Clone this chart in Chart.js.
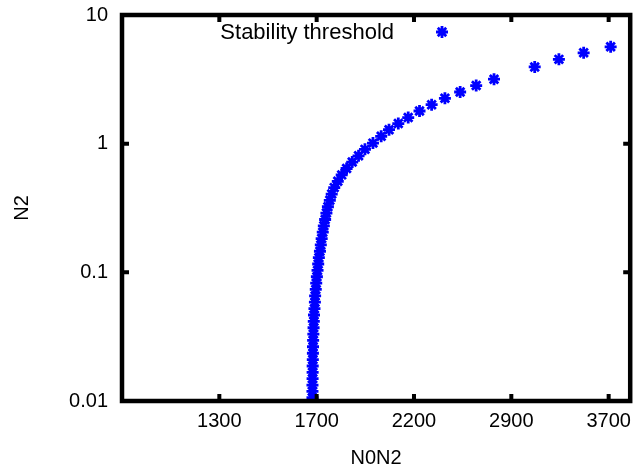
<!DOCTYPE html>
<html lang="en">
<head>
    <meta charset="UTF-8">
    <title>Stability threshold</title>
    <script src="https://cdn.jsdelivr.net/npm/chart.js"></script>
    <style>
        html, body { margin: 0; padding: 0; background: #fff; }
        canvas { display: block; }
    </style>
</head>
<body>
    <canvas id="myChart" width="639" height="473"></canvas>
    <script>
        // N0N2 (x) and N2 (y) of the stability threshold, bottom to top
        var n0n2 = [1671, 1671, 1671, 1671.5, 1671.7, 1672, 1672.5, 1673, 1673.5, 1674,
            1675, 1676, 1677, 1678, 1680, 1682, 1683, 1686, 1688, 1691,
            1694, 1697, 1700, 1705, 1709, 1713, 1718, 1723, 1729, 1735,
            1742, 1751, 1760, 1772, 1789, 1808, 1832, 1860, 1892, 1925,
            1967, 2011, 2054, 2106, 2163, 2230, 2304, 2388, 2488, 2598,
            2726, 3042, 3247, 3471, 3733];
        var n2 = [0.0106, 0.0119, 0.0133, 0.0149, 0.0167, 0.0187, 0.0210, 0.0235, 0.0264, 0.0296,
            0.0331, 0.0371, 0.0416, 0.0466, 0.0522, 0.0586, 0.0656, 0.0736, 0.0824, 0.0924,
            0.1035, 0.1161, 0.1300, 0.1458, 0.1632, 0.1831, 0.2050, 0.2299, 0.2574, 0.2887,
            0.3233, 0.3627, 0.406, 0.4555, 0.510, 0.572, 0.641, 0.719, 0.805, 0.903,
            1.01, 1.14, 1.285, 1.432, 1.595, 1.795, 2.01, 2.25, 2.52, 2.83,
            3.17, 3.95, 4.52, 5.08, 5.66];

        var xTickValues = [1300, 1690, 2197, 2856.1, 3712.93];
        var xTickLabels = ['1300', '1700', '2200', '2900', '3700'];
        var yTickValues = [0.01, 0.1, 1, 10];
        var yTickLabels = ['0.01', '0.1', '1', '10'];

        var seriesLabel = 'Stability threshold';
        var blue = '#0000ff';

        Chart.defaults.font.family = '"Liberation Sans", Arial, sans-serif';
        Chart.defaults.font.size = 20;
        Chart.defaults.color = '#000';

        // thick gnuplot-like border with inward ticks, mirrored
        var framePlugin = {
            id: 'frame',
            afterDatasetsDraw: function (chart) {
                var ctx = chart.ctx, a = chart.chartArea;
                var xs = chart.scales.x, ys = chart.scales.y;
                ctx.save();
                ctx.strokeStyle = '#000';
                ctx.lineWidth = 4;
                xTickValues.forEach(function (v) {
                    var px = xs.getPixelForValue(v);
                    ctx.beginPath();
                    ctx.moveTo(px, a.bottom); ctx.lineTo(px, a.bottom - 7);
                    ctx.moveTo(px, a.top); ctx.lineTo(px, a.top + 7);
                    ctx.stroke();
                });
                yTickValues.forEach(function (v) {
                    var py = ys.getPixelForValue(v);
                    ctx.beginPath();
                    ctx.moveTo(a.left, py); ctx.lineTo(a.left + 7, py);
                    ctx.moveTo(a.right, py); ctx.lineTo(a.right - 7, py);
                    ctx.stroke();
                });
                ctx.lineWidth = 4.5;
                ctx.strokeRect(a.left, a.top, a.right - a.left, a.bottom - a.top);
                ctx.restore();
            }
        };

        // key in the top-left: text then sample marker
        var keyPlugin = {
            id: 'key',
            afterDatasetsDraw: function (chart) {
                var ctx = chart.ctx;
                ctx.save();
                ctx.font = '22px "Liberation Sans", Arial, sans-serif';
                ctx.fillStyle = '#000';
                ctx.textAlign = 'right';
                ctx.textBaseline = 'middle';
                ctx.fillText(seriesLabel, 394, 33);
                ctx.strokeStyle = blue;
                ctx.fillStyle = blue;
                ctx.lineWidth = 2.8;
                Chart.helpers.drawPoint(ctx, { pointStyle: 'star', radius: 6, borderWidth: 2.8 }, 442, 32);
                ctx.restore();
            }
        };

        var points = n0n2.map(function (x, i) { return { x: x, y: n2[i] }; });

        var myChart = new Chart(document.getElementById('myChart').getContext('2d'), {
            type: 'scatter',
            data: {
                datasets: [{
                    label: seriesLabel,
                    data: points,
                    pointStyle: 'star',
                    pointRadius: 6,
                    pointBorderWidth: 2.8,
                    borderColor: blue,
                    backgroundColor: blue
                }]
            },
            options: {
                responsive: false,
                animation: false,
                layout: { padding: { top: 15, right: 4, bottom: 0, left: 0 } },
                plugins: { legend: { display: false }, tooltip: { enabled: false } },
                scales: {
                    x: {
                        type: 'logarithmic',
                        min: 1000,
                        max: 3935,
                        afterBuildTicks: function (scale) {
                            scale.ticks = xTickValues.map(function (v) { return { value: v }; });
                        },
                        afterFit: function (scale) {
                            scale.height = 72;
                            scale.paddingLeft = 0;
                            scale.paddingRight = 0;
                        },
                        ticks: {
                            autoSkip: false,
                            maxRotation: 0,
                            padding: 8,
                            callback: function (value) {
                                return xTickLabels[xTickValues.indexOf(value)];
                            }
                        },
                        grid: { display: false, drawTicks: false },
                        border: { display: false },
                        title: { display: true, text: 'N0N2', padding: { top: 0, bottom: 3 } }
                    },
                    y: {
                        type: 'logarithmic',
                        min: 0.01,
                        max: 10,
                        afterBuildTicks: function (scale) {
                            scale.ticks = yTickValues.map(function (v) { return { value: v }; });
                        },
                        afterFit: function (scale) {
                            scale.width = 122;
                            scale.paddingTop = 0;
                            scale.paddingBottom = 0;
                        },
                        ticks: {
                            padding: 14,
                            callback: function (value) {
                                return yTickLabels[yTickValues.indexOf(value)];
                            }
                        },
                        grid: { display: false, drawTicks: false },
                        border: { display: false },
                        title: { display: true, text: 'N2', padding: { top: 10, bottom: 0 } }
                    }
                }
            },
            plugins: [framePlugin, keyPlugin]
        });
    </script>
</body>
</html>
